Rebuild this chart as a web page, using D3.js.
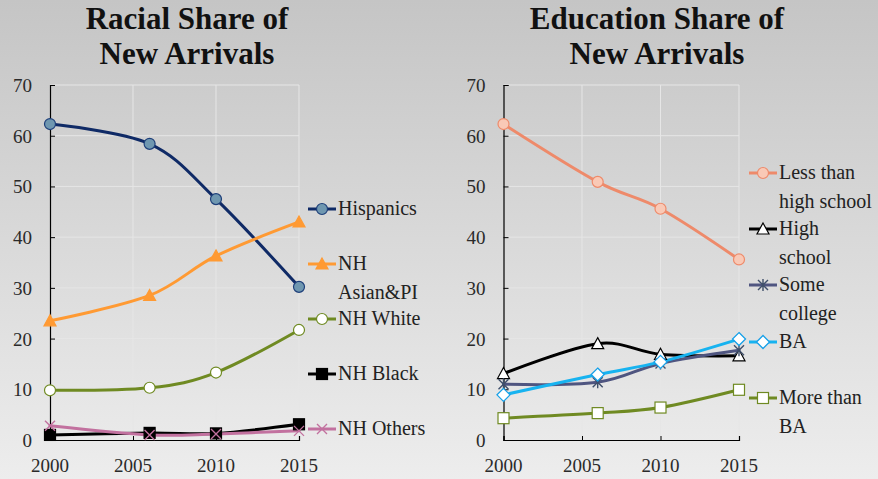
<!DOCTYPE html>
<html><head><meta charset="utf-8">
<script src="https://cdn.jsdelivr.net/npm/d3@7/dist/d3.min.js"></script>
<style>html,body{margin:0;padding:0;overflow:hidden;}svg{display:block;}</style>
</head><body>
<svg id="c" width="878" height="479"></svg>
<script>
// ---- data ----
const years = [2000, 2006, 2010, 2015];
const xTicks = [2000, 2005, 2010, 2015];
const yTicks = [0, 10, 20, 30, 40, 50, 60, 70];

const raceNames = ["Hispanics", "NH Asian&PI", "NH White", "NH Black", "NH Others"];
const hispanics = [62.3, 58.4, 47.5, 30.2];
const nhAsianPI = [23.5, 28.5, 36.3, 43.0];
const nhWhite   = [9.8, 10.3, 13.3, 21.7];
const nhBlack   = [1.0, 1.4, 1.3, 3.1];
const nhOthers  = [2.8, 1.0, 1.2, 1.8];

const eduNames = ["Less than high school", "High school", "Some college", "BA", "More than BA"];
const lessHS     = [62.3, 50.9, 45.6, 35.6];
const highSchool = [13.1, 19.0, 16.9, 16.6];
const someColl   = [11.0, 11.4, 15.1, 17.7];
const ba         = [8.9, 12.9, 15.4, 19.9];
const moreBA     = [4.3, 5.3, 6.4, 9.9];

const svg = d3.select("#c");
const W = 878, H = 479;
const defs = svg.append("defs");
const grad = defs.append("linearGradient").attr("id","bg").attr("x1",0).attr("y1",0).attr("x2",0).attr("y2",1);
grad.append("stop").attr("offset","0%").attr("stop-color","#c5c5c5");
grad.append("stop").attr("offset","100%").attr("stop-color","#ededed");
svg.append("rect").attr("width",W).attr("height",H).attr("fill","url(#bg)");

const FONT = "'Liberation Serif', serif";

function marker(g, type, cfg, x, y) {
  const s = g.append("g").attr("transform", `translate(${x},${y})`);
  if (type === "circle") {
    s.append("circle").attr("r", 5.5).attr("fill", cfg.fill).attr("stroke", cfg.mstroke).attr("stroke-width", 1.2);
  } else if (type === "triangle") {
    s.append("path").attr("d", "M0,-6L6,5L-6,5Z").attr("fill", cfg.fill).attr("stroke", cfg.mstroke).attr("stroke-width", 1.2);
  } else if (type === "square") {
    s.append("rect").attr("x",-5.5).attr("y",-5.5).attr("width",11).attr("height",11).attr("fill", cfg.fill).attr("stroke", cfg.mstroke).attr("stroke-width", 1.2);
  } else if (type === "diamond") {
    s.append("path").attr("d", "M0,-6.5L6.5,0L0,6.5L-6.5,0Z").attr("fill", cfg.fill).attr("stroke", cfg.mstroke).attr("stroke-width", 1.3);
  } else if (type === "x") {
    s.append("path").attr("d", "M-5,-5L5,5M-5,5L5,-5").attr("stroke", cfg.mstroke).attr("stroke-width", 1.4);
  } else if (type === "star") {
    s.append("path").attr("d", "M-5,-5L5,5M-5,5L5,-5M0,-6L0,6").attr("stroke", cfg.mstroke).attr("stroke-width", 1.4);
  }
}

function panel(opts) {
  const g = svg.append("g");
  const x = d3.scaleLinear().domain([2000, 2015]).range([opts.x0, opts.x1]);
  const y = d3.scaleLinear().domain([0, 70]).range([440, 85]);

  // title
  const t = g.append("text").attr("font-family", FONT).attr("font-weight", "bold")
    .attr("font-size", 31).attr("text-anchor", "middle").attr("fill", "#111");
  opts.title.forEach((ln, i) => t.append("tspan").attr("x", opts.tx).attr("y", 29 + i * 35).text(ln));

  // gridlines
  g.append("g").selectAll("line").data(yTicks.slice(1)).join("line")
    .attr("x1", x(2000)).attr("x2", x(2015)).attr("y1", d => y(d)).attr("y2", d => y(d))
    .attr("stroke", "#e6e6e6").attr("stroke-width", 1);
  g.append("g").selectAll("line").data(xTicks.slice(1)).join("line")
    .attr("x1", d => x(d)).attr("x2", d => x(d)).attr("y1", y(0)).attr("y2", y(70))
    .attr("stroke", "#e6e6e6").attr("stroke-width", 1);

  // axes
  const ya = g.append("g").attr("transform", `translate(${x(2000)},0)`)
    .call(d3.axisRight(y).tickValues(yTicks).tickSize(5).tickFormat(""));
  ya.select(".domain").attr("stroke", "#000").attr("stroke-width", 1.2);
  ya.selectAll(".tick line").attr("stroke", "#000");
  g.append("g").selectAll("text").data(yTicks).join("text")
    .attr("x", x(2000) - 18).attr("y", d => y(d) + 7)
    .attr("text-anchor", "end").attr("font-family", FONT).attr("font-size", 19).attr("fill", "#2a2a2a")
    .text(d => d);

  const xa = g.append("g").attr("transform", `translate(0,${y(0)})`)
    .call(d3.axisTop(x).tickValues(xTicks).tickSize(4).tickFormat(""));
  xa.select(".domain").attr("stroke", "#000").attr("stroke-width", 1.2);
  xa.selectAll(".tick line").attr("stroke", "#000");
  g.append("g").selectAll("text").data(xTicks).join("text")
    .attr("x", d => x(d)).attr("y", 472)
    .attr("text-anchor", "middle").attr("font-family", FONT).attr("font-size", 19).attr("fill", "#2a2a2a")
    .text(d => d);

  const line = d3.line().x((d, i) => x(years[i])).y(d => y(d)).curve(d3.curveCardinal.tension(0));

  opts.series.forEach(s => {
    g.append("path").datum(s.values).attr("d", line).attr("fill", "none")
      .attr("stroke", s.color).attr("stroke-width", 3).attr("stroke-linecap", "round");
  });
  opts.series.forEach(s => {
    s.values.forEach((v, i) => marker(g, s.marker, s, x(years[i]), y(v)));
  });

  // legend
  opts.series.forEach((s, k) => {
    const ly = opts.legendY[k];
    g.append("line").attr("x1", opts.lx).attr("x2", opts.lx + 28).attr("y1", ly).attr("y2", ly)
      .attr("stroke", s.color).attr("stroke-width", 3);
    marker(g, s.marker, s, opts.lx + 14, ly);
    const tt = g.append("text").attr("font-family", FONT).attr("font-size", 20).attr("fill", "#222");
    s.label.forEach((ln, j) => tt.append("tspan").attr("x", opts.lx + 30).attr("y", ly + 6 + j * 29).text(ln));
  });
}

panel({
  x0: 50, x1: 299, tx: 187,
  title: ["Racial Share of", "New Arrivals"],
  lx: 308, legendY: [209, 264, 319, 374, 429],
  series: [
    { values: hispanics, label: ["Hispanics"], color: "#0f2a66", marker: "circle", fill: "#6f97b0", mstroke: "#1e3f7a" },
    { values: nhAsianPI, label: ["NH", "Asian&PI"], color: "#ff9a33", marker: "triangle", fill: "#ff9a33", mstroke: "#ff9a33" },
    { values: nhWhite, label: ["NH White"], color: "#6f8a22", marker: "circle", fill: "#ffffff", mstroke: "#6f8a22" },
    { values: nhBlack, label: ["NH Black"], color: "#000000", marker: "square", fill: "#000000", mstroke: "#000000" },
    { values: nhOthers, label: ["NH Others"], color: "#c2719f", marker: "x", fill: "none", mstroke: "#c2719f" }
  ]
});

panel({
  x0: 503.5, x1: 739, tx: 657,
  title: ["Education Share of", "New Arrivals"],
  lx: 749, legendY: [173, 229, 285, 342, 398],
  series: [
    { values: lessHS, label: ["Less than", "high school"], color: "#ee8a6a", marker: "circle", fill: "#f9c9b6", mstroke: "#ee8a6a" },
    { values: highSchool, label: ["High", "school"], color: "#000000", marker: "triangle", fill: "#ffffff", mstroke: "#000000" },
    { values: someColl, label: ["Some", "college"], color: "#4f5580", marker: "star", fill: "none", mstroke: "#3f4f6a" },
    { values: ba, label: ["BA"], color: "#17b3f0", marker: "diamond", fill: "#ffffff", mstroke: "#17a0e8" },
    { values: moreBA, label: ["More than", "BA"], color: "#6f8a22", marker: "square", fill: "#ffffff", mstroke: "#6f8a22" }
  ]
});
</script>
</body></html>
